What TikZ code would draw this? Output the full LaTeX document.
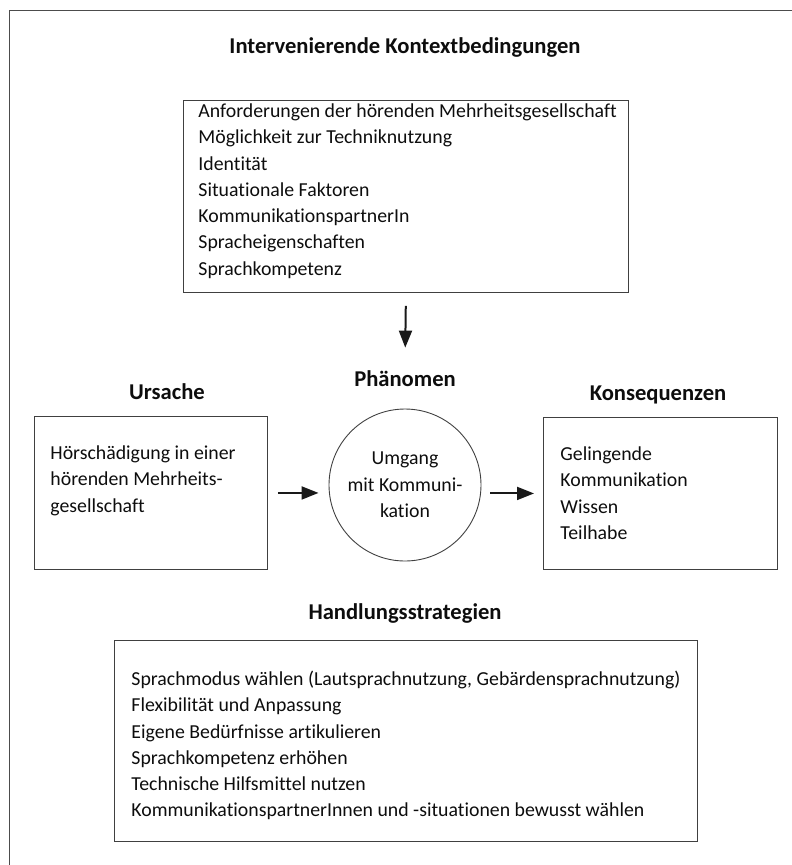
\documentclass[tikz,border=0pt]{standalone}
\usepackage{fontspec}
\setmainfont[Ligatures=NoCommon]{Carlito}
\usepackage{tikz}
\usetikzlibrary{arrows.meta}
\tikzstyle{infobox} = [draw=black!75, line width=0.9pt, rectangle, inner sep=0pt, anchor=north west, font=\fontsize{19.8}{26.3}\selectfont, text=black!95]
\tikzstyle{headline} = [anchor=base, font=\bfseries\fontsize{22.6}{26}\selectfont, text=black!95]
\tikzstyle{myarrow} = [-{Triangle[length=17pt,width=13pt]}, line width=2pt, black!90]

\begin{document}
\begin{tikzpicture}[x=1pt, y=-1pt]
\useasboundingbox (0,0) rectangle (792,865);
% Rahmen (nur oben und links)
\draw[black!70, line width=0.9pt] (9,865) -- (9,10) -- (792,10);

% oben
\node[headline] (kontexttitel) at (405,53) {Intervenierende Kontextbedingungen};
\node[infobox] (kontext) at (183,100) {%
  \begin{minipage}[c][192pt][t]{445pt}\raggedright\leftskip=15pt
  \vspace*{0pt}
  \rule{0pt}{17pt}Anforderungen der hörenden Mehrheitsgesellschaft\\
  Möglichkeit zur Techniknutzung\\
  Identität\\
  Situationale Faktoren\\
  KommunikationspartnerIn\\
  Spracheigenschaften\\
  Sprachkompetenz
  \end{minipage}
};

% Mitte
\node[headline] (ursachetitel) at (167,399) {Ursache};
\node[infobox] (ursache) at (34,416) {%
  \begin{minipage}[c][153pt][t]{233pt}\raggedright\leftskip=16pt
  \vspace*{26pt}
  \rule{0pt}{17pt}Hörschädigung in einer\\
  hörenden Mehrheits-\\
  gesellschaft
  \end{minipage}
};

\node[headline] (phaenomentitel) at (405,386) {Phänomen};
\node[draw=black!75, line width=0.9pt, circle, minimum size=152pt, inner sep=0pt, align=center,
      font=\fontsize{19.8}{26.3}\selectfont, text=black!95] (phaenomen) at (405,485)
  {Umgang\\mit Kommuni-\\kation};

\node[headline] (konsequenztitel) at (658,400) {Konsequenzen};
\node[infobox] (konsequenz) at (543,417) {%
  \begin{minipage}[c][152pt][t]{234pt}\raggedright\leftskip=17pt
  \vspace*{26pt}
  \rule{0pt}{17pt}Gelingende\\
  Kommunikation\\
  Wissen\\
  Teilhabe
  \end{minipage}
};

% unten
\node[headline] (handlungtitel) at (405,619) {Handlungsstrategien};
\node[infobox] (handlung) at (114,640) {%
  \begin{minipage}[c][201pt][t]{583pt}\raggedright\leftskip=17pt
  \vspace*{28pt}
  \rule{0pt}{17pt}Sprachmodus wählen (Lautsprachnutzung, Gebärdensprachnutzung)\\
  Flexibilität und Anpassung\\
  Eigene Bedürfnisse artikulieren\\
  Sprachkompetenz erhöhen\\
  Technische Hilfsmittel nutzen\\
  KommunikationspartnerInnen und -situationen bewusst wählen
  \end{minipage}
};

% Pfeile
\draw[myarrow, shorten <=13pt, shorten >=19pt] (kontext.south) -- (phaenomentitel.north);
\draw[myarrow, shorten <=10pt, shorten >=10pt] (ursache.east) -- (ursache.east -| phaenomen.west);
\draw[myarrow, shorten <=9pt, shorten >=9pt] (phaenomen.east |- konsequenz.west) -- (konsequenz.west);
\end{tikzpicture}
\end{document}
